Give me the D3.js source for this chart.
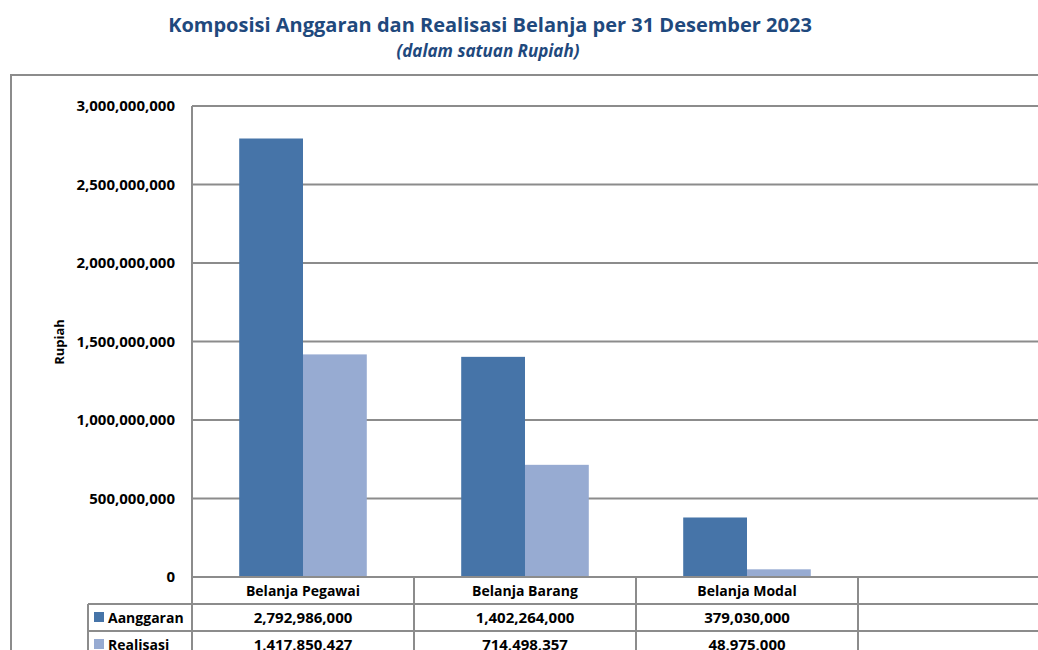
<!DOCTYPE html>
<html>
<head>
<meta charset="utf-8">
<script src="https://cdn.jsdelivr.net/npm/d3@7"></script>
<style>
  body { margin: 0; background: #fff; }
  svg { display: block; font-family: "Open Sans", "Noto Sans", sans-serif; }
</style>
</head>
<body>
<div id="chart"></div>
<script>
// Data
const categories = ["Belanja Pegawai", "Belanja Barang", "Belanja Modal", ""];
const seriesNames = ["Aanggaran", "Realisasi"];
const anggaran = [2792986000, 1402264000, 379030000, null];
const realisasi = [1417850427, 714498357, 48975000, null];
const yTicks = [0, 500000000, 1000000000, 1500000000, 2000000000, 2500000000, 3000000000];
const colors = ["#4674a8", "#97abd2"];

const width = 1038;
const height = 650;

const plotLeft = 192;
const plotTop = 106;
const plotBottom = 577;
const slotWidth = 222;

const svg = d3.select("#chart").append("svg")
    .attr("width", width)
    .attr("height", height);

// Titles
svg.append("text")
    .attr("x", 490).attr("y", 32)
    .attr("text-anchor", "middle")
    .style("font-size", "20px").style("font-weight", "bold")
    .style("fill", "#1f497d")
    .text("Komposisi Anggaran dan Realisasi Belanja per 31 Desember 2023");

svg.append("text")
    .attr("x", 488).attr("y", 57)
    .attr("text-anchor", "middle")
    .style("font-size", "17px").style("font-weight", "bold").style("font-style", "italic")
    .style("fill", "#1f497d")
    .text("(dalam satuan Rupiah)");

// Outer chart border (cut off at right and bottom)
svg.append("path")
    .attr("d", `M11,${height + 5}V75H${width + 5}`)
    .attr("fill", "none")
    .attr("stroke", "#8c8c8c")
    .attr("stroke-width", 2);

// Scales
const x = d3.scaleBand()
    .domain(categories.map((d, i) => i))
    .range([plotLeft, plotLeft + slotWidth * categories.length]);

const xInner = d3.scaleBand()
    .domain(seriesNames)
    .range([0, x.bandwidth()])
    .paddingOuter(0.74)
    .paddingInner(0);

const y = d3.scaleLinear()
    .domain([0, 3000000000])
    .range([plotBottom, plotTop]);

// Gridlines
svg.append("g")
    .selectAll("line")
    .data(yTicks)
    .join("line")
    .attr("x1", plotLeft).attr("x2", width + 5)
    .attr("y1", d => y(d)).attr("y2", d => y(d))
    .attr("stroke", "#8c8c8c")
    .attr("stroke-width", 2);

// Y axis line
svg.append("line")
    .attr("x1", plotLeft).attr("x2", plotLeft)
    .attr("y1", plotTop).attr("y2", plotBottom)
    .attr("stroke", "#8c8c8c").attr("stroke-width", 2);

// Y tick labels
svg.append("g")
    .selectAll("text")
    .data(yTicks)
    .join("text")
    .attr("x", 175)
    .attr("y", d => y(d) + 5)
    .attr("text-anchor", "end")
    .style("font-size", "15px").style("font-weight", "bold")
    .text(d => d3.format(",")(d));

// Y axis title
svg.append("text")
    .attr("transform", "translate(64,342) rotate(-90)")
    .attr("text-anchor", "middle")
    .style("font-size", "13px").style("font-weight", "bold")
    .text("Rupiah");

// Bars
const series = [anggaran, realisasi];
series.forEach((values, s) => {
    svg.append("g")
        .selectAll("rect")
        .data(values.map((v, i) => ({ i, v })).filter(d => d.v != null))
        .join("rect")
        .attr("x", d => x(d.i) + xInner(seriesNames[s]))
        .attr("width", xInner.bandwidth())
        .attr("y", d => y(d.v))
        .attr("height", d => y(0) - y(d.v))
        .attr("fill", colors[s]);
});

// Data table below the axis
const rowH = 27;
const tableLeft = 88;
const table = svg.append("g").attr("stroke", "#8c8c8c").attr("stroke-width", 2);

// horizontal lines
[plotBottom, plotBottom + rowH, plotBottom + rowH * 2].forEach((yy, k) => {
    table.append("line")
        .attr("x1", k === 0 ? plotLeft : tableLeft).attr("x2", width + 5)
        .attr("y1", yy).attr("y2", yy);
});
table.append("line")
    .attr("x1", tableLeft).attr("x2", tableLeft)
    .attr("y1", plotBottom + rowH).attr("y2", height + 5);
categories.forEach((c, i) => {
    const xx = x(i);
    table.append("line")
        .attr("x1", xx).attr("x2", xx)
        .attr("y1", plotBottom).attr("y2", height + 5);
});
table.append("line")
    .attr("x1", x(3) + slotWidth).attr("x2", x(3) + slotWidth)
    .attr("y1", plotBottom).attr("y2", height + 5);

// category header
svg.append("g")
    .selectAll("text")
    .data(categories)
    .join("text")
    .attr("x", (d, i) => x(i) + slotWidth / 2)
    .attr("y", plotBottom + 19)
    .attr("text-anchor", "middle")
    .style("font-size", "14px").style("font-weight", "bold")
    .text(d => d);

// series rows
series.forEach((values, s) => {
    const rowY = plotBottom + rowH * (s + 1);
    svg.append("rect")
        .attr("x", 94).attr("y", rowY + 8)
        .attr("width", 10).attr("height", 10)
        .attr("fill", colors[s]);
    svg.append("text")
        .attr("x", 108).attr("y", rowY + 19)
        .style("font-size", "14px").style("font-weight", "bold")
        .text(seriesNames[s]);
    svg.append("g")
        .selectAll("text")
        .data(values)
        .join("text")
        .attr("x", (d, i) => x(i) + slotWidth / 2)
        .attr("y", rowY + 19)
        .attr("text-anchor", "middle")
        .style("font-size", "15px").style("font-weight", "bold")
        .text(d => d == null ? "" : d3.format(",")(d));
});
</script>
</body>
</html>
